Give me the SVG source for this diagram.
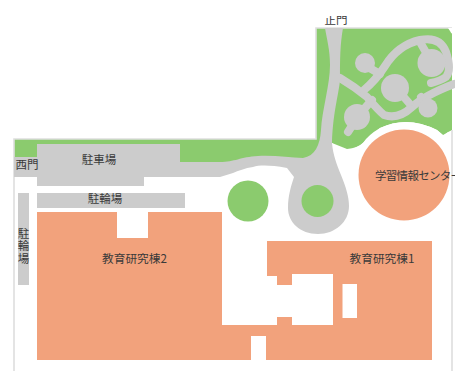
<svg xmlns="http://www.w3.org/2000/svg" width="455" height="371" viewBox="0 0 455 371">
<style>
.g{fill:#8bcb6e}.r{fill:#cccccc}.o{fill:#f2a27c}.w{fill:#fff}
.s{fill:none;stroke:#cccccc;stroke-width:8;stroke-linecap:round}
.b{fill:none;stroke:#dedede;stroke-width:1.6}
text{font-family:"Noto Sans CJK JP","Liberation Sans",sans-serif;font-size:11.5px;fill:#3a3a3a;text-anchor:middle}
</style>
<rect class="w" width="455" height="371"/>
<path class="g" d="M14 139H316V28H452V130L443 135L437 130Q407 115 380 128Q368 135 363 143Q355 150 347 149L332 143L318 160L220 165V180H14Z"/>
<path class="w" d="M14 177H231L288 168L300 240H452V371H14Z"/>
<path class="w" d="M332 143Q340 150 347 149Q358 148 364 142Q372 135 380 128Q407 115 437 130L444 136L448 132L455 131V240H340Z"/>
<path class="b" d="M14 371V139H316V28H452"/>
<path class="w" d="M448 28H455V33Q452 36 450 31Z"/>
<path class="b" d="M452 130V371"/>
<g id="roads">
<path class="r" d="M14 157H37V144H180V162H220C235 162 240 157 258 156C275 155 290 158 303 158C315 156 320 145 321 130C322 110 330 85 330 65C330 50 327 40 325 28H343C340 45 340 60 340 78C340 90 333 110 332 143C333 155 337 165 341 175C346 187 349 197 349 206C349 222 335 234 318 234C300 234 288 222 288 208C288 196 291 186 294 177L287 168C270 165 260 165 253 167C245 168 238 171 233 173L220 177H144V186H37V177H14Z"/>
<circle class="g" cx="317.500" cy="201" r="16"/>
<path class="s" d="M340 78Q355 87 367 97Q378 110 384 115Q398 120 412 107Q425 95 454 84"/>
<path class="s" d="M364 90Q376 80 385 66Q398 45 420 40Q440 36 446 52Q452 70 446 77Q440 81 431 83"/>
<path class="s" d="M380 74L366 66M396 88L409 103M432 63L420 42M428 108L421 97M357 117L372 100M357 118L348 132"/>
<circle class="r" cx="365" cy="63" r="10"/>
<circle class="r" cx="395" cy="88" r="14"/>
<circle class="r" cx="431.500" cy="63" r="14"/>
<circle class="r" cx="357" cy="117" r="13"/>
<circle class="r" cx="428" cy="108" r="9.500"/>
<rect class="r" x="37" y="193" width="148" height="15"/>
<rect class="r" x="18" y="193" width="11" height="92"/>
</g>
<circle id="lawn" class="g" cx="248" cy="201" r="20.500"/>
<g id="building2"><path class="o" d="M37 212H117V238H148V212H222V325H267V360H37Z"/></g>
<g id="building1"><path class="o" d="M267 241H432V360H266V336H251V360H240V325H277V317H292V325H333V274H292V285H277V276H267ZM342.500 284V318H357V284Z"/></g>
<path class="w" d="M251 336H266V360H251Z"/>
<circle id="center" class="o" cx="404" cy="175" r="45.500"/>
<g id="labels">
<text x="27" y="169">西門</text>
<text x="99" y="164">駐車場</text>
<text x="105" y="203">駐輪場</text>
<text x="23.500" y="227.500" style="writing-mode:vertical-rl;text-anchor:start;letter-spacing:1px">駐輪場</text>
<text x="134.500" y="263" style="font-size:11.700px">教育研究棟2</text>
<text x="382" y="263" style="font-size:11.700px">教育研究棟1</text>
<text x="375" y="180" style="text-anchor:start;letter-spacing:-0.7px">学習情報センター</text>
<text x="336" y="24">正門</text>
</g>
<rect class="w" x="320" y="6" width="35" height="10"/>
</svg>
